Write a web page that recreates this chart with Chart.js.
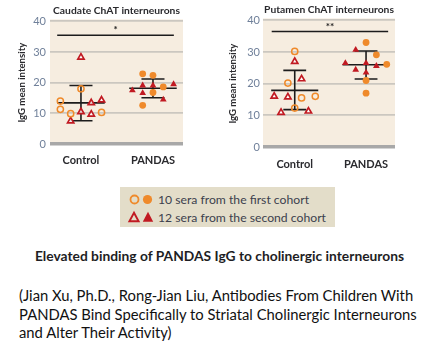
<!DOCTYPE html>
<html>
<head>
<meta charset="utf-8">
<script src="https://cdn.jsdelivr.net/npm/chart.js@4.4.1/dist/chart.umd.min.js"></script>
<style>
  html, body { margin:0; padding:0; background:#ffffff; }
  body { width:439px; height:359px; position:relative; overflow:hidden; font-family: Lato, "Noto Sans", sans-serif; }
  #c1 { position:absolute; left:0; top:0; }
  #c2 { position:absolute; left:220px; top:0; }
  #legend { position:absolute; left:120px; top:187px; width:215px; height:40px; background:#e3ddc9; }
  .lrow { position:absolute; left:0; height:18px; width:215px; }
  .lrow svg { position:absolute; left:4px; top:0; }
  .lrow span { position:absolute; left:38px; top:0px; font-size:12.2px; color:#3c3f4d; white-space:nowrap; line-height:17px; }
  #caption { position:absolute; left:0; width:439px; top:247px; text-align:center; font-weight:bold; font-size:13.8px; color:#1e1e24; }
  #cite { position:absolute; left:19px; top:286px; font-size:14.8px; line-height:18.6px; color:#111; white-space:nowrap; }
</style>
</head>
<body>
<canvas id="c1" width="220" height="170"></canvas>
<canvas id="c2" width="219" height="170"></canvas>
<div id="legend">
  <div class="lrow" style="top:4px">
    <svg width="32" height="18"><circle cx="10.5" cy="8.5" r="4" fill="none" stroke="#ef8a2b" stroke-width="1.8"/><circle cx="23.5" cy="8.5" r="4.6" fill="#ef8a2b"/></svg>
    <span>10 sera from the first cohort</span>
  </div>
  <div class="lrow" style="top:22px">
    <svg width="32" height="18"><polygon points="10,3.8 14.6,12.3 5.4,12.3" fill="none" stroke="#c11a22" stroke-width="1.9"/><polygon points="24,2.8 29.2,12.8 18.8,12.8" fill="#c11a22"/></svg>
    <span>12 sera from the second cohort</span>
  </div>
</div>
<div id="caption">Elevated binding of PANDAS IgG to cholinergic interneurons</div>
<div id="cite">(Jian Xu, Ph.D., Rong-Jian Liu, Antibodies From Children With<br>PANDAS Bind Specifically to Striatal Cholinergic Interneurons<br>and Alter Their Activity)</div>
<script>
// ---------------- DATA ----------------
const categories = ['Control', 'PANDAS'];
const yTickValues = [0, 10, 20, 30, 40];
const panelTitles = ['Caudate ChAT interneurons', 'Putamen ChAT interneurons'];
const yAxisTitle = 'IgG mean intensity';

// Caudate: values (IgG mean intensity) and beeswarm column index
const caudateControlFirst  = [18.0, 14.0, 11.3, 9.9, 10.3];        // open circles
const caudateControlFirstCol  = [0, -2, -2, -1, 2];
const caudateControlSecond = [28.3, 10.5, 7.5, 13.4, 14.3, 9.7];   // open triangles
const caudateControlSecondCol = [0, 0, -1, 1, 2, 1];
const caudatePandasFirst   = [22.9, 22.4, 18.6, 16.8, 12.6];       // filled circles
const caudatePandasFirstCol   = [-1, 0, 1, 0, -1];
const caudatePandasSecond  = [17.5, 19.1, 16.6, 19.1, 19.5, 14.5]; // filled triangles
const caudatePandasSecondCol  = [-2, -1, -1, 0, 2, 1];
const caudateMean  = [13.4, 18.2];
const caudateUpper = [19.1, 21.2];
const caudateLower = [7.6, 15.1];
const caudateSigLevel = 35.5;
const caudateSigLabel = '*';

// Putamen
const putamenControlFirst  = [30.2, 20.2, 15.5, 16.0, 12.3];
const putamenControlFirstCol  = [0, -1, 1, 3, 0];
const putamenControlSecond = [27.0, 21.5, 16.0, 15.8, 10.9, 11.3];
const putamenControlSecondCol = [0, 1, -3, -1, -2, 2];
const putamenPandasFirst   = [33.0, 29.1, 26.1, 21.0, 17.0];
const putamenPandasFirstCol   = [0, 1, 2, 0, 0];
const putamenPandasSecond  = [30.7, 26.5, 26.5, 25.6, 24.4, 23.5];
const putamenPandasSecondCol  = [-1, -2, 0, 1, -1, 0];
const putamenMean  = [17.9, 26.0];
const putamenUpper = [24.2, 30.3];
const putamenLower = [11.8, 21.5];
const putamenSigLevel = 36.5;
const putamenSigLabel = '**';

// ---------------- STYLE ----------------
const ORANGE = '#ef8a2b';
const RED = '#c11a22';
const INK = '#1c1c1c';
const FONT = 'Lato, "Noto Sans", sans-serif';

function swarm(vals, cols, center, step) {
  return vals.map((v, i) => ({ x: center + cols[i] * step, y: v }));
}
function errBars(mean, upper, lower) {
  const hw = 0.33, cw = 0.16, out = [];
  mean.forEach((m, i) => {
    const c = i + 1;
    out.push({x:c-hw,y:m},{x:c+hw,y:m},{x:c,y:null},
             {x:c,y:lower[i]},{x:c,y:upper[i]},{x:c,y:null},
             {x:c-cw,y:upper[i]},{x:c+cw,y:upper[i]},{x:c,y:null},
             {x:c-cw,y:lower[i]},{x:c+cw,y:lower[i]},{x:c,y:null});
  });
  return out;
}

const bgPlugin = {
  id: 'plotBg',
  beforeDraw(chart) {
    const a = chart.chartArea, ctx = chart.ctx;
    ctx.save(); ctx.fillStyle = '#f6ede0';
    ctx.fillRect(a.left, a.top - 2, a.right - a.left, a.bottom - a.top + 2);
    ctx.restore();
  }
};
const starPlugin = {
  id: 'sigStar',
  afterDatasetsDraw(chart, args, opts) {
    const ctx = chart.ctx;
    const x = chart.scales.x.getPixelForValue(opts.x);
    const y = chart.scales.y.getPixelForValue(opts.y);
    ctx.save();
    ctx.fillStyle = INK; ctx.font = 'bold 10px ' + FONT;
    ctx.textAlign = 'center'; ctx.textBaseline = 'middle';
    ctx.fillText(opts.text, x, y - 5);
    ctx.restore();
  }
};

function makeChart(id, p) {
  const datasets = [
    { data: swarm(p.cFirst, p.cFirstCol, 1, p.cStep), pointStyle:'circle', pointRadius:3.1, borderColor:ORANGE, backgroundColor:'rgba(0,0,0,0)', borderWidth:1.5 },
    { data: swarm(p.cSecond, p.cSecondCol, 1, p.cStep), pointStyle:'triangle', pointRadius:3.6, borderColor:RED, backgroundColor:'rgba(255,255,255,0.85)', borderWidth:1.7 },
    { data: swarm(p.pFirst, p.pFirstCol, 2, p.pStep), pointStyle:'circle', pointRadius:3.4, borderColor:ORANGE, backgroundColor:ORANGE, borderWidth:0 },
    { data: swarm(p.pSecond, p.pSecondCol, 2, p.pStep), pointStyle:'triangle', pointRadius:3.9, borderColor:RED, backgroundColor:RED, borderWidth:0 },
    { data: errBars(p.mean, p.upper, p.lower), showLine:true, spanGaps:false, pointRadius:0, borderColor:INK, borderWidth:1.6 },
    { data: [{x:p.sigFrom,y:p.sig},{x:p.sigTo,y:p.sig}], showLine:true, pointRadius:0, borderColor:INK, borderWidth:1.5 }
  ];
  return new Chart(document.getElementById(id), {
    type: 'scatter',
    data: { datasets },
    plugins: [bgPlugin, starPlugin],
    options: {
      responsive:false, animation:false, devicePixelRatio:1,
      layout: { padding: { left:0, right:p.padRight, top:0, bottom:0 } },
      plugins: {
        legend: { display:false }, tooltip: { enabled:false },
        title: { display:true, text:p.title, fullSize:false, color:'#2a2a2e',
                 font:{ family:FONT, size:10.3, weight:'bold' }, padding:{ top:p.titleTop, bottom:5 } },
        sigStar: { x:(p.sigFrom + p.sigTo) / 2, y:p.sig, text:p.sigText }
      },
      scales: {
        x: {
          type:'linear', min:p.xMin, max:p.xMax,
          afterBuildTicks(s) { s.ticks = categories.map((c, i) => ({ value: i + 1 })); },
          afterFit(s) { s.height = p.xHeight; },
          ticks: { callback: (v) => categories[Math.round(v) - 1], color:'#2a2a2e', padding:p.xPad,
                   font:{ family:FONT, size:11, weight:'bold' }, maxRotation:0, autoSkip:false },
          grid: { display:false }, border: { display:false }
        },
        y: {
          min:0, max:40,
          afterBuildTicks(s) { s.ticks = yTickValues.map(v => ({ value: v })); },
          afterFit(s) { s.width = p.yWidth; },
          ticks: { color:'#70809a', padding:p.yPad, font:{ family:FONT, size:11 } },
          grid: { drawTicks:false,
                  color: (c) => c.tick && c.tick.value === 0 ? '#a8a8a8' : '#cbc7c0',
                  lineWidth: (c) => c.tick && c.tick.value === 0 ? 3.5 : 1.8 },
          border: { display:false },
          title: { display:true, text:yAxisTitle, color:'#2a2a2e',
                   font:{ family:FONT, size:9.6, weight:'bold' }, padding:{ top:p.yTitlePad, bottom:0 } }
        }
      }
    }
  });
}

makeChart('c1', {
  title: panelTitles[0],
  cFirst: caudateControlFirst, cFirstCol: caudateControlFirstCol,
  cSecond: caudateControlSecond, cSecondCol: caudateControlSecondCol,
  pFirst: caudatePandasFirst, pFirstCol: caudatePandasFirstCol,
  pSecond: caudatePandasSecond, pSecondCol: caudatePandasSecondCol,
  cStep: 0.143, pStep: 0.143,
  mean: caudateMean, upper: caudateUpper, lower: caudateLower,
  sig: caudateSigLevel, sigText: caudateSigLabel, sigFrom: 0.67, sigTo: 2.29,
  xMin: 0.57, xMax: 2.417, padRight: 37, titleTop: 4, xHeight: 26, xPad: 2,
  yWidth: 50, yPad: 4, yTitlePad: 16.3
});
makeChart('c2', {
  title: panelTitles[1],
  cFirst: putamenControlFirst, cFirstCol: putamenControlFirstCol,
  cSecond: putamenControlSecond, cSecondCol: putamenControlSecondCol,
  pFirst: putamenPandasFirst, pFirstCol: putamenPandasFirstCol,
  pSecond: putamenPandasSecond, pSecondCol: putamenPandasSecondCol,
  cStep: 0.096, pStep: 0.145,
  mean: putamenMean, upper: putamenUpper, lower: putamenLower,
  sig: putamenSigLevel, sigText: putamenSigLabel, sigFrom: 0.677, sigTo: 2.31,
  xMin: 0.555, xMax: 2.406, padRight: 44, titleTop: 3, xHeight: 23, xPad: 3,
  yWidth: 43, yPad: 3, yTitlePad: 7.3
});
</script>
</body>
</html>
